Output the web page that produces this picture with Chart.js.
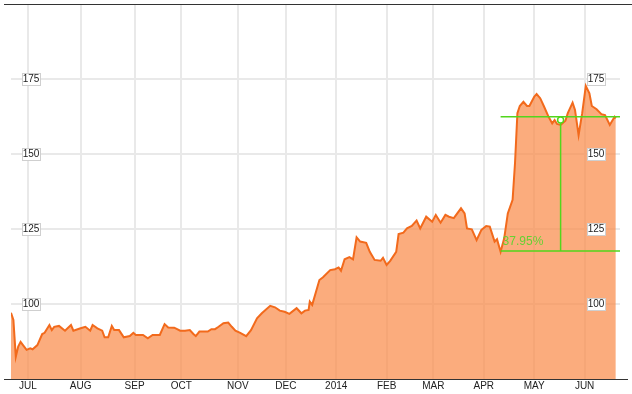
<!DOCTYPE html>
<html>
<head>
<meta charset="utf-8">
<script src="https://cdn.jsdelivr.net/npm/chart.js@4.4.1/dist/chart.umd.min.js"></script>
<style>
  html, body { margin: 0; padding: 0; background: #fff; }
</style>
</head>
<body>
<canvas id="chart" width="632" height="394"></canvas>
<script>
// trading-day index (0 = first session shown) and closing price
const dayIndex = [
  0, 1, 2, 3, 4, 5, 6.5, 8, 9, 11, 13, 14, 16, 17, 18, 20, 22.5, 25, 26, 29,
  31, 33, 34, 36, 38, 39, 40.5, 42, 43, 45, 47, 49.5, 51, 52, 55, 57, 59, 62,
  64, 65.5, 68, 70.5, 72.5, 74.5, 76, 77, 78.5, 81, 82, 83.5, 85, 86.5, 88.5,
  90.5, 92, 93.5, 95.5, 98, 100, 102.5, 104.5, 108, 110, 112, 114, 116, 119,
  121, 122.5, 124, 124.5, 125.5, 128.5, 130, 133, 135, 136.5, 137.5, 139, 141,
  142.5, 144, 145.5, 148, 149.5, 151.5, 154, 155, 156.5, 158, 160.5, 161.5,
  163.5, 165, 167, 169, 170.5, 173, 175.5, 177, 179, 181, 182.5, 184.5, 187.5,
  189, 190, 192, 194, 196, 198, 199.5, 201.5, 202.5, 204, 205.5, 207, 209,
  210, 211, 212, 213.5, 215, 216, 218, 219, 220.5, 222, 224, 225.5, 226.5,
  227.5, 229, 231, 232, 234, 235, 236.5, 238, 239.5, 241, 242, 244, 246,
  247.5, 249.5, 251.5, 252
];
const price = [
  97.1, 94.7, 82.4, 85.8, 87.4, 86.3, 84.7, 85.2, 84.9, 86.3, 90.0, 90.4, 93.0, 91.3, 92.4, 92.7, 91.1, 93.0, 91.1, 91.9,
  92.4, 91.1, 93.0, 91.9, 91.1, 88.9, 88.9, 92.7, 91.3, 91.3, 88.9, 89.3, 90.4, 89.7, 89.7, 88.6, 89.7, 89.7,
  93.3, 92.2, 92.1, 91.1, 91.1, 91.3, 90.0, 89.3, 90.8, 90.8, 90.8, 91.6, 91.6, 92.4, 93.6,
  93.8, 92.4, 91.1, 90.4, 89.3, 91.3, 95.2, 96.9, 99.4, 98.9, 97.8, 97.4, 96.7, 98.6,
  96.9, 97.8, 98.0, 100.8, 99.7, 108.0, 108.9, 111.3, 111.6, 112.2, 111.1, 114.9, 115.6,
  114.9, 122.2, 120.8, 120.4, 117.4, 114.7, 114.4, 115.4, 113.0, 114.4, 117.4, 123.3,
  123.8, 125.2, 126.0, 127.8, 125.2, 129.1, 127.4, 129.7, 127.1, 129.7, 129.1, 128.6, 131.9,
  130.2, 125.2, 124.9, 121.3, 124.7, 126.0, 125.8, 120.8, 121.6, 117.4, 121.9, 130.2, 134.7,
  146.9, 163.6, 166.0, 167.4, 166.0, 166.0, 169.1, 170.0, 168.6, 166.0, 162.4, 160.2, 161.3,
  160.0, 159.7, 161.1, 163.6, 167.1, 164.7, 156.3, 163.6, 172.7, 170.2, 166.0, 164.9, 163.3,
  163.0, 159.7, 162.4, 161.9
];

// month starts on the same trading-day index
const monthTicks = [7, 29, 51.5, 71, 94.5, 114.5, 135.5, 156.5, 176, 197, 218, 239];
const monthLabels = ['JUL', 'AUG', 'SEP', 'OCT', 'NOV', 'DEC', '2014', 'FEB', 'MAR', 'APR', 'MAY', 'JUN'];
const priceTicks = [100, 125, 150, 175];

// change measurement drawn in green
const changeLowDay = 204;
const changeMarkDay = 229;
const changeLow = 117.7;
const changeHigh = 162.4;
const changeMark = 161.3;
const changeText = '37.95%';

const FONT = '"Liberation Sans", Arial, sans-serif';
Chart.defaults.font.family = FONT;

const overlay = {
  id: 'overlay',
  afterDatasetsDraw(chart) {
    const {ctx, chartArea: a, scales: {x, y}} = chart;
    ctx.save();

    // frame lines
    ctx.strokeStyle = '#333';
    ctx.lineWidth = 1;
    ctx.beginPath();
    ctx.moveTo(4, a.top + 0.5);
    ctx.lineTo(chart.width, a.top + 0.5);
    ctx.moveTo(4, a.bottom + 0.5);
    ctx.lineTo(628, a.bottom + 0.5);
    ctx.stroke();

    // green change measurement
    const xl = x.getPixelForValue(changeLowDay);
    const xm = x.getPixelForValue(changeMarkDay);
    const yh = y.getPixelForValue(changeHigh);
    const yl = y.getPixelForValue(changeLow);
    ctx.strokeStyle = '#52d61c';
    ctx.lineWidth = 1.5;
    ctx.beginPath();
    ctx.moveTo(xl, yh); ctx.lineTo(a.right, yh);
    ctx.moveTo(xl, yl); ctx.lineTo(a.right, yl);
    ctx.moveTo(xm, yh); ctx.lineTo(xm, yl);
    ctx.stroke();
    ctx.fillStyle = '#fff';
    ctx.beginPath();
    ctx.arc(xm, y.getPixelForValue(changeMark), 3, 0, Math.PI * 2);
    ctx.fill();
    ctx.stroke();
    ctx.fillStyle = '#66d133';
    ctx.font = '12px ' + FONT;
    ctx.textAlign = 'left';
    ctx.textBaseline = 'middle';
    ctx.fillText(changeText, xl + 2, yl - 9);

    // price labels in boxes, both sides
    ctx.font = '10px ' + FONT;
    ctx.textAlign = 'center';
    ctx.textBaseline = 'middle';
    ctx.lineWidth = 1;
    priceTicks.forEach(v => {
      const py = Math.round(y.getPixelForValue(v));
      [31, 596].forEach(cx => {
        ctx.fillStyle = '#fff';
        ctx.fillRect(cx - 9, py - 6, 18, 12);
        ctx.strokeStyle = '#cfcfcf';
        ctx.strokeRect(cx - 9 + 0.5, py - 6 + 0.5, 18, 12);
        ctx.fillStyle = '#222';
        ctx.fillText(String(v), cx, py + 0.5);
      });
    });
    ctx.restore();
  }
};

const ctx = document.getElementById('chart').getContext('2d');
new Chart(ctx, {
  type: 'line',
  data: {
    datasets: [{
      data: dayIndex.map((d, i) => ({x: d, y: price[i]})),
      borderColor: '#f26a1c',
      borderWidth: 2,
      backgroundColor: 'rgba(250, 140, 75, 0.72)',
      fill: 'start',
      pointRadius: 0,
      tension: 0
    }]
  },
  options: {
    responsive: false,
    animation: false,
    layout: { padding: { left: 11, right: 12, top: 4, bottom: 0 } },
    plugins: { legend: { display: false }, tooltip: { enabled: false } },
    scales: {
      x: {
        type: 'linear',
        min: 0,
        max: 253.75,
        afterBuildTicks: axis => { axis.ticks = monthTicks.map(v => ({value: v})); },
        ticks: {
          autoSkip: false,
          maxRotation: 0,
          padding: 1.5,
          color: '#222',
          font: { size: 10 },
          callback: (v, i) => monthLabels[i]
        },
        grid: { color: '#e9e9e9', lineWidth: 2, drawTicks: false },
        border: { display: false }
      },
      y: {
        min: 75,
        max: 200,
        afterBuildTicks: axis => { axis.ticks = priceTicks.map(v => ({value: v})); },
        ticks: { display: false },
        grid: { color: '#e9e9e9', lineWidth: 2, drawTicks: false },
        border: { display: false }
      }
    }
  },
  plugins: [overlay]
});
</script>
</body>
</html>
